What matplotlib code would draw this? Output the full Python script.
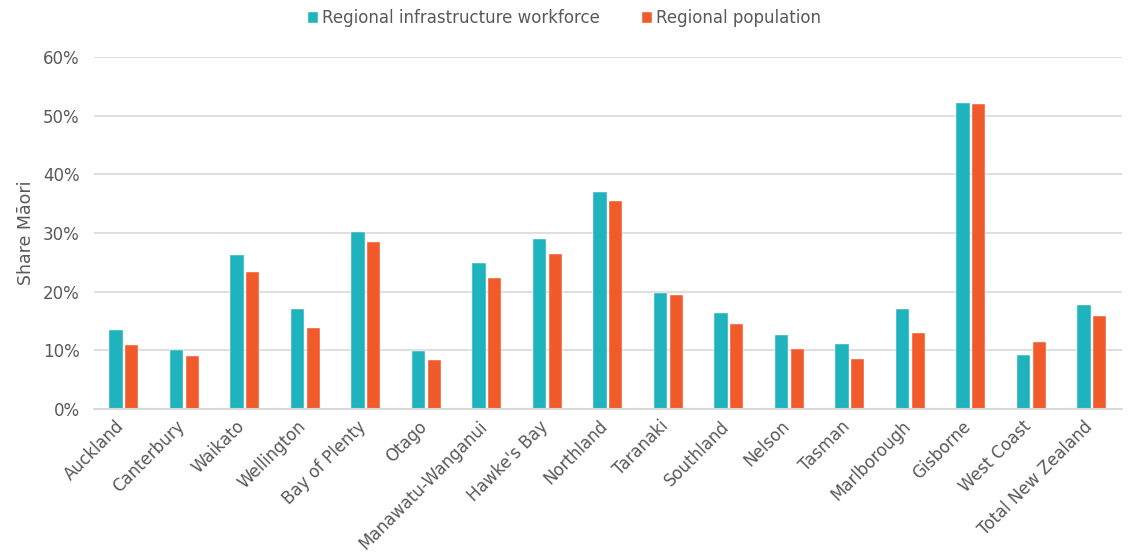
import matplotlib.pyplot as plt
import matplotlib.transforms as mtransforms
import numpy as np
from matplotlib.ticker import PercentFormatter

regions = [
    "Auckland", "Canterbury", "Waikato", "Wellington", "Bay of Plenty",
    "Otago", "Manawatu-Wanganui", "Hawke's Bay", "Northland", "Taranaki",
    "Southland", "Nelson", "Tasman", "Marlborough", "Gisborne",
    "West Coast", "Total New Zealand",
]
workforce = [13.4, 10.1, 26.3, 17.0, 30.2, 9.9, 24.8, 29.0, 37.0, 19.7,
             16.3, 12.6, 11.0, 17.0, 52.2, 9.2, 17.7]
population = [10.9, 9.0, 23.3, 13.8, 28.4, 8.3, 22.3, 26.5, 35.4, 19.5,
              14.5, 10.3, 8.6, 12.9, 52.0, 11.5, 15.9]

TEAL = "#1fb3bd"
ORANGE = "#f15a2b"
TEXT = "#595959"

plt.rcParams["font.family"] = ["DejaVu Sans"]

fig = plt.figure(figsize=(11.29, 5.58), dpi=100)
ax = fig.add_axes([0.083, 0.267, 0.911, 0.631])

x = np.arange(len(regions))
w = 0.22
ax.bar(x - 0.13, workforce, w, color=TEAL, edgecolor="white", linewidth=0.3,
       label="Regional infrastructure workforce", zorder=3)
ax.bar(x + 0.13, population, w, color=ORANGE, edgecolor="white", linewidth=0.3,
       label="Regional population", zorder=3)

ax.set_xlim(-0.5, len(regions) - 0.5)
ax.set_ylim(0, 60)
ax.set_yticks(range(0, 61, 10))
ax.yaxis.set_major_formatter(PercentFormatter(decimals=0))
ax.grid(axis="y", color="#d9d9d9", linewidth=1.2, zorder=0)

ax.set_xticks(x)
ax.set_xticklabels(regions, rotation=45, ha="right", rotation_mode="anchor")
ax.tick_params(axis="both", length=0, labelsize=12, colors=TEXT)
ax.tick_params(axis="x", pad=6)
ax.tick_params(axis="y", pad=10)

# nudge the rotated category labels left so they sit under the bars
shift = mtransforms.ScaledTranslation(-0.09, 0, fig.dpi_scale_trans)
for lbl in ax.get_xticklabels():
    lbl.set_transform(lbl.get_transform() + shift)

for side in ["top", "right", "left"]:
    ax.spines[side].set_visible(False)
ax.spines["bottom"].set_color("#d9d9d9")
ax.spines["bottom"].set_linewidth(1.5)
ax.spines["bottom"].set_zorder(4)

ax.set_ylabel("Share Māori", fontsize=12.5, color=TEXT, labelpad=6)

leg = fig.legend(loc="upper center", bbox_to_anchor=(0.5, 1.01), ncol=2,
                 frameon=False, fontsize=12, handlelength=0.6, handleheight=0.6,
                 handletextpad=0.25, columnspacing=2.5)
for t in leg.get_texts():
    t.set_color(TEXT)

fig.savefig("out.png", dpi=100)
